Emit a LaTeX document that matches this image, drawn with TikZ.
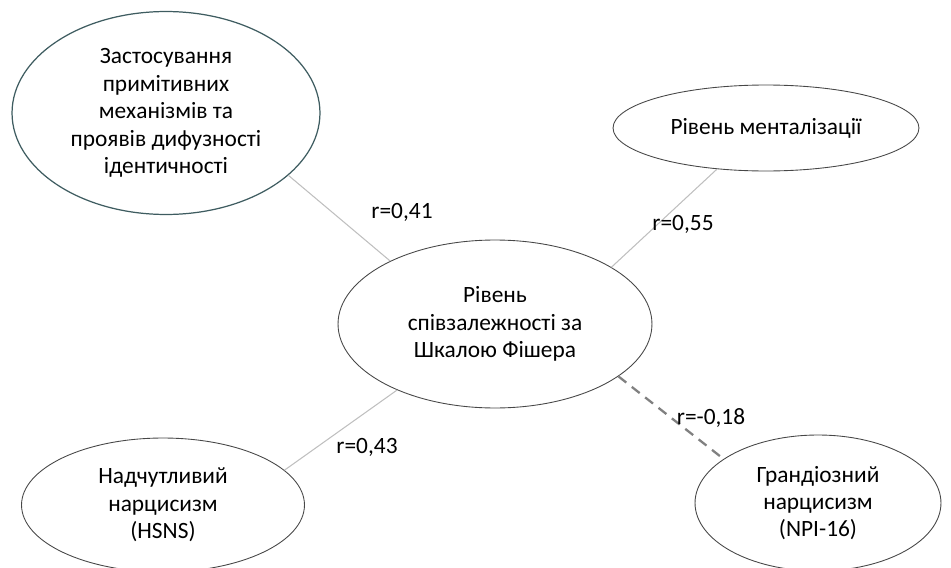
\documentclass[tikz,border=0pt]{standalone}
\usepackage{fontspec}
\setmainfont{Carlito}
\usetikzlibrary{shapes.geometric}
\definecolor{rimteal}{HTML}{3E5C60}
\begin{document}
\begin{tikzpicture}[x=0.02cm,y=-0.02cm,
  font=\fontsize{13.3}{15.6}\selectfont,
  every node/.style={ellipse,draw=black!72,line width=0.5pt,align=center,inner sep=0pt},
  lbl/.style={draw=none,rectangle,inner sep=1pt},
  link/.style={draw=gray!50,line width=0.6pt},
  neglink/.style={draw=black!50,line width=1.3pt,dash pattern=on 0.2cm off 0.14cm}]
 \useasboundingbox (0,0) rectangle (951,568);
 \node[minimum width=6.16cm,minimum height=4.06cm,draw=rimteal,line width=0.7pt] (P) at (166,113)
   {Застосування\\примітивних\\механізмів та\\проявів дифузності\\ідентичності};
 \node[minimum width=6.12cm,minimum height=1.72cm] (M) at (766,128) {Рівень менталізації};
 \node[minimum width=6.28cm,minimum height=3.36cm] (F) at (495,324)
   {Рівень\\співзалежності за\\Шкалою Фішера};
 \node[minimum width=5.66cm,minimum height=2.68cm] (H) at (163,505)
   {Надчутливий\\нарцисизм\\(HSNS)};
 \node[minimum width=4.92cm,minimum height=2.72cm] (N) at (818,503)
   {Грандіозний\\нарцисизм\\(NPI-16)};
 % correlations
 \draw[link] (P.-27.5) -- (F.149.5);
 \draw[link] (M.220) -- (F.26.4);
 \draw[link] (H.16) -- (F.214.6);
 \draw[neglink] (F.-23.8) -- (N.155);
 \node[lbl] (rP) at (402,212) {r=0,41};
 \node[lbl] (rM) at (683,224) {r=0,55};
 \node[lbl] (rH) at (367,447) {r=0,43};
 \node[lbl] (rN) at (711,418) {r=-0,18};
\end{tikzpicture}
\end{document}
